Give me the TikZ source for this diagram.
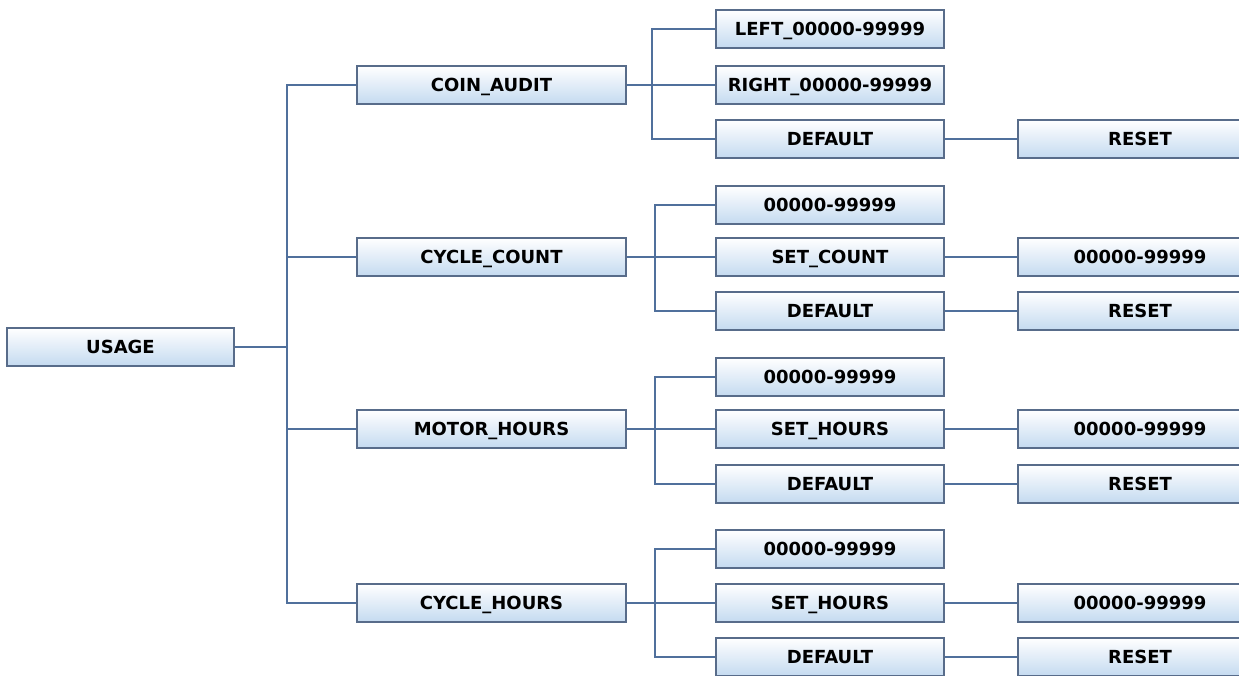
\documentclass[tikz,border=0pt]{standalone}
\usepackage{fontspec}
\setmainfont{DejaVu Sans}
\definecolor{boxblue}{RGB}{196,218,240}
\definecolor{boxborder}{RGB}{88,108,138}
\definecolor{linecol}{RGB}{80,112,156}
\begin{document}
\begin{tikzpicture}[x=1pt,y=-1pt,
  box/.style={draw=boxborder, line width=1.3pt, top color=white, bottom color=boxblue,
    minimum height=38pt, inner sep=0pt, anchor=center,
    text height=13pt, text depth=0pt,
    font=\fontsize{18}{21}\selectfont\bfseries},
  lvA/.style={box, minimum width=227pt},
  lvB/.style={box, minimum width=269pt},
  lvC/.style={box, minimum width=228pt},
  lvD/.style={box, minimum width=244pt},
  conn/.style={draw=linecol, line width=1.2pt}]
\useasboundingbox (0,0) rectangle (1239,675);
\clip (0,0) rectangle (1239,675);
\fill[white] (0,0) rectangle (1239,675);
% root
\node[lvA] (usage) at (120.5,347) {USAGE};
% level 1
\node[lvB] (coin) at (491.5,85) {COIN\_AUDIT};
\node[lvB] (ccount) at (491.5,257) {CYCLE\_COUNT};
\node[lvB] (motor) at (491.5,429) {MOTOR\_HOURS};
\node[lvB] (chours) at (491.5,603) {CYCLE\_HOURS};
% level 2
\node[lvC] (cl) at (830,29) {LEFT\_00000-99999};
\node[lvC] (cr) at (830,85) {RIGHT\_00000-99999};
\node[lvC] (cd) at (830,139) {DEFAULT};
\node[lvC] (kn) at (830,205) {00000-99999};
\node[lvC] (ks) at (830,257) {SET\_COUNT};
\node[lvC] (kd) at (830,311) {DEFAULT};
\node[lvC] (mn) at (830,377) {00000-99999};
\node[lvC] (ms) at (830,429) {SET\_HOURS};
\node[lvC] (md) at (830,484) {DEFAULT};
\node[lvC] (hn) at (830,549) {00000-99999};
\node[lvC] (hs) at (830,603) {SET\_HOURS};
\node[lvC] (hd) at (830,657) {DEFAULT};
% level 3
\node[lvD] (cdr) at (1140,139) {RESET};
\node[lvD] (ksn) at (1140,257) {00000-99999};
\node[lvD] (kdr) at (1140,311) {RESET};
\node[lvD] (msn) at (1140,429) {00000-99999};
\node[lvD] (mdr) at (1140,484) {RESET};
\node[lvD] (hsn) at (1140,603) {00000-99999};
\node[lvD] (hdr) at (1140,657) {RESET};
% junction x positions
\coordinate (tr) at (287,0);
\coordinate (ja) at (652,0);
\coordinate (jb) at (655,0);
% trunk
\draw[conn] (usage.east) -- (usage.east -| tr);
\draw[conn] (coin.west) -- (coin.west -| tr) -- (chours.west -| tr) -- (chours.west);
\draw[conn] (ccount.west) -- (ccount.west -| tr);
\draw[conn] (motor.west) -- (motor.west -| tr);
% coin audit
\draw[conn] (coin.east) -- (coin.east -| ja);
\draw[conn] (cl.west) -- (cl.west -| ja) -- (cd.west -| ja) -- (cd.west);
\draw[conn] (cr.west) -- (cr.west -| ja);
% cycle count
\draw[conn] (ccount.east) -- (ccount.east -| jb);
\draw[conn] (kn.west) -- (kn.west -| jb) -- (kd.west -| jb) -- (kd.west);
\draw[conn] (ks.west) -- (ks.west -| jb);
% motor hours
\draw[conn] (motor.east) -- (motor.east -| jb);
\draw[conn] (mn.west) -- (mn.west -| jb) -- (md.west -| jb) -- (md.west);
\draw[conn] (ms.west) -- (ms.west -| jb);
% cycle hours
\draw[conn] (chours.east) -- (chours.east -| jb);
\draw[conn] (hn.west) -- (hn.west -| jb) -- (hd.west -| jb) -- (hd.west);
\draw[conn] (hs.west) -- (hs.west -| jb);
% level 3 links
\draw[conn] (cd.east) -- (cdr.west);
\draw[conn] (ks.east) -- (ksn.west);
\draw[conn] (kd.east) -- (kdr.west);
\draw[conn] (ms.east) -- (msn.west);
\draw[conn] (md.east) -- (mdr.west);
\draw[conn] (hs.east) -- (hsn.west);
\draw[conn] (hd.east) -- (hdr.west);
\end{tikzpicture}
\end{document}
